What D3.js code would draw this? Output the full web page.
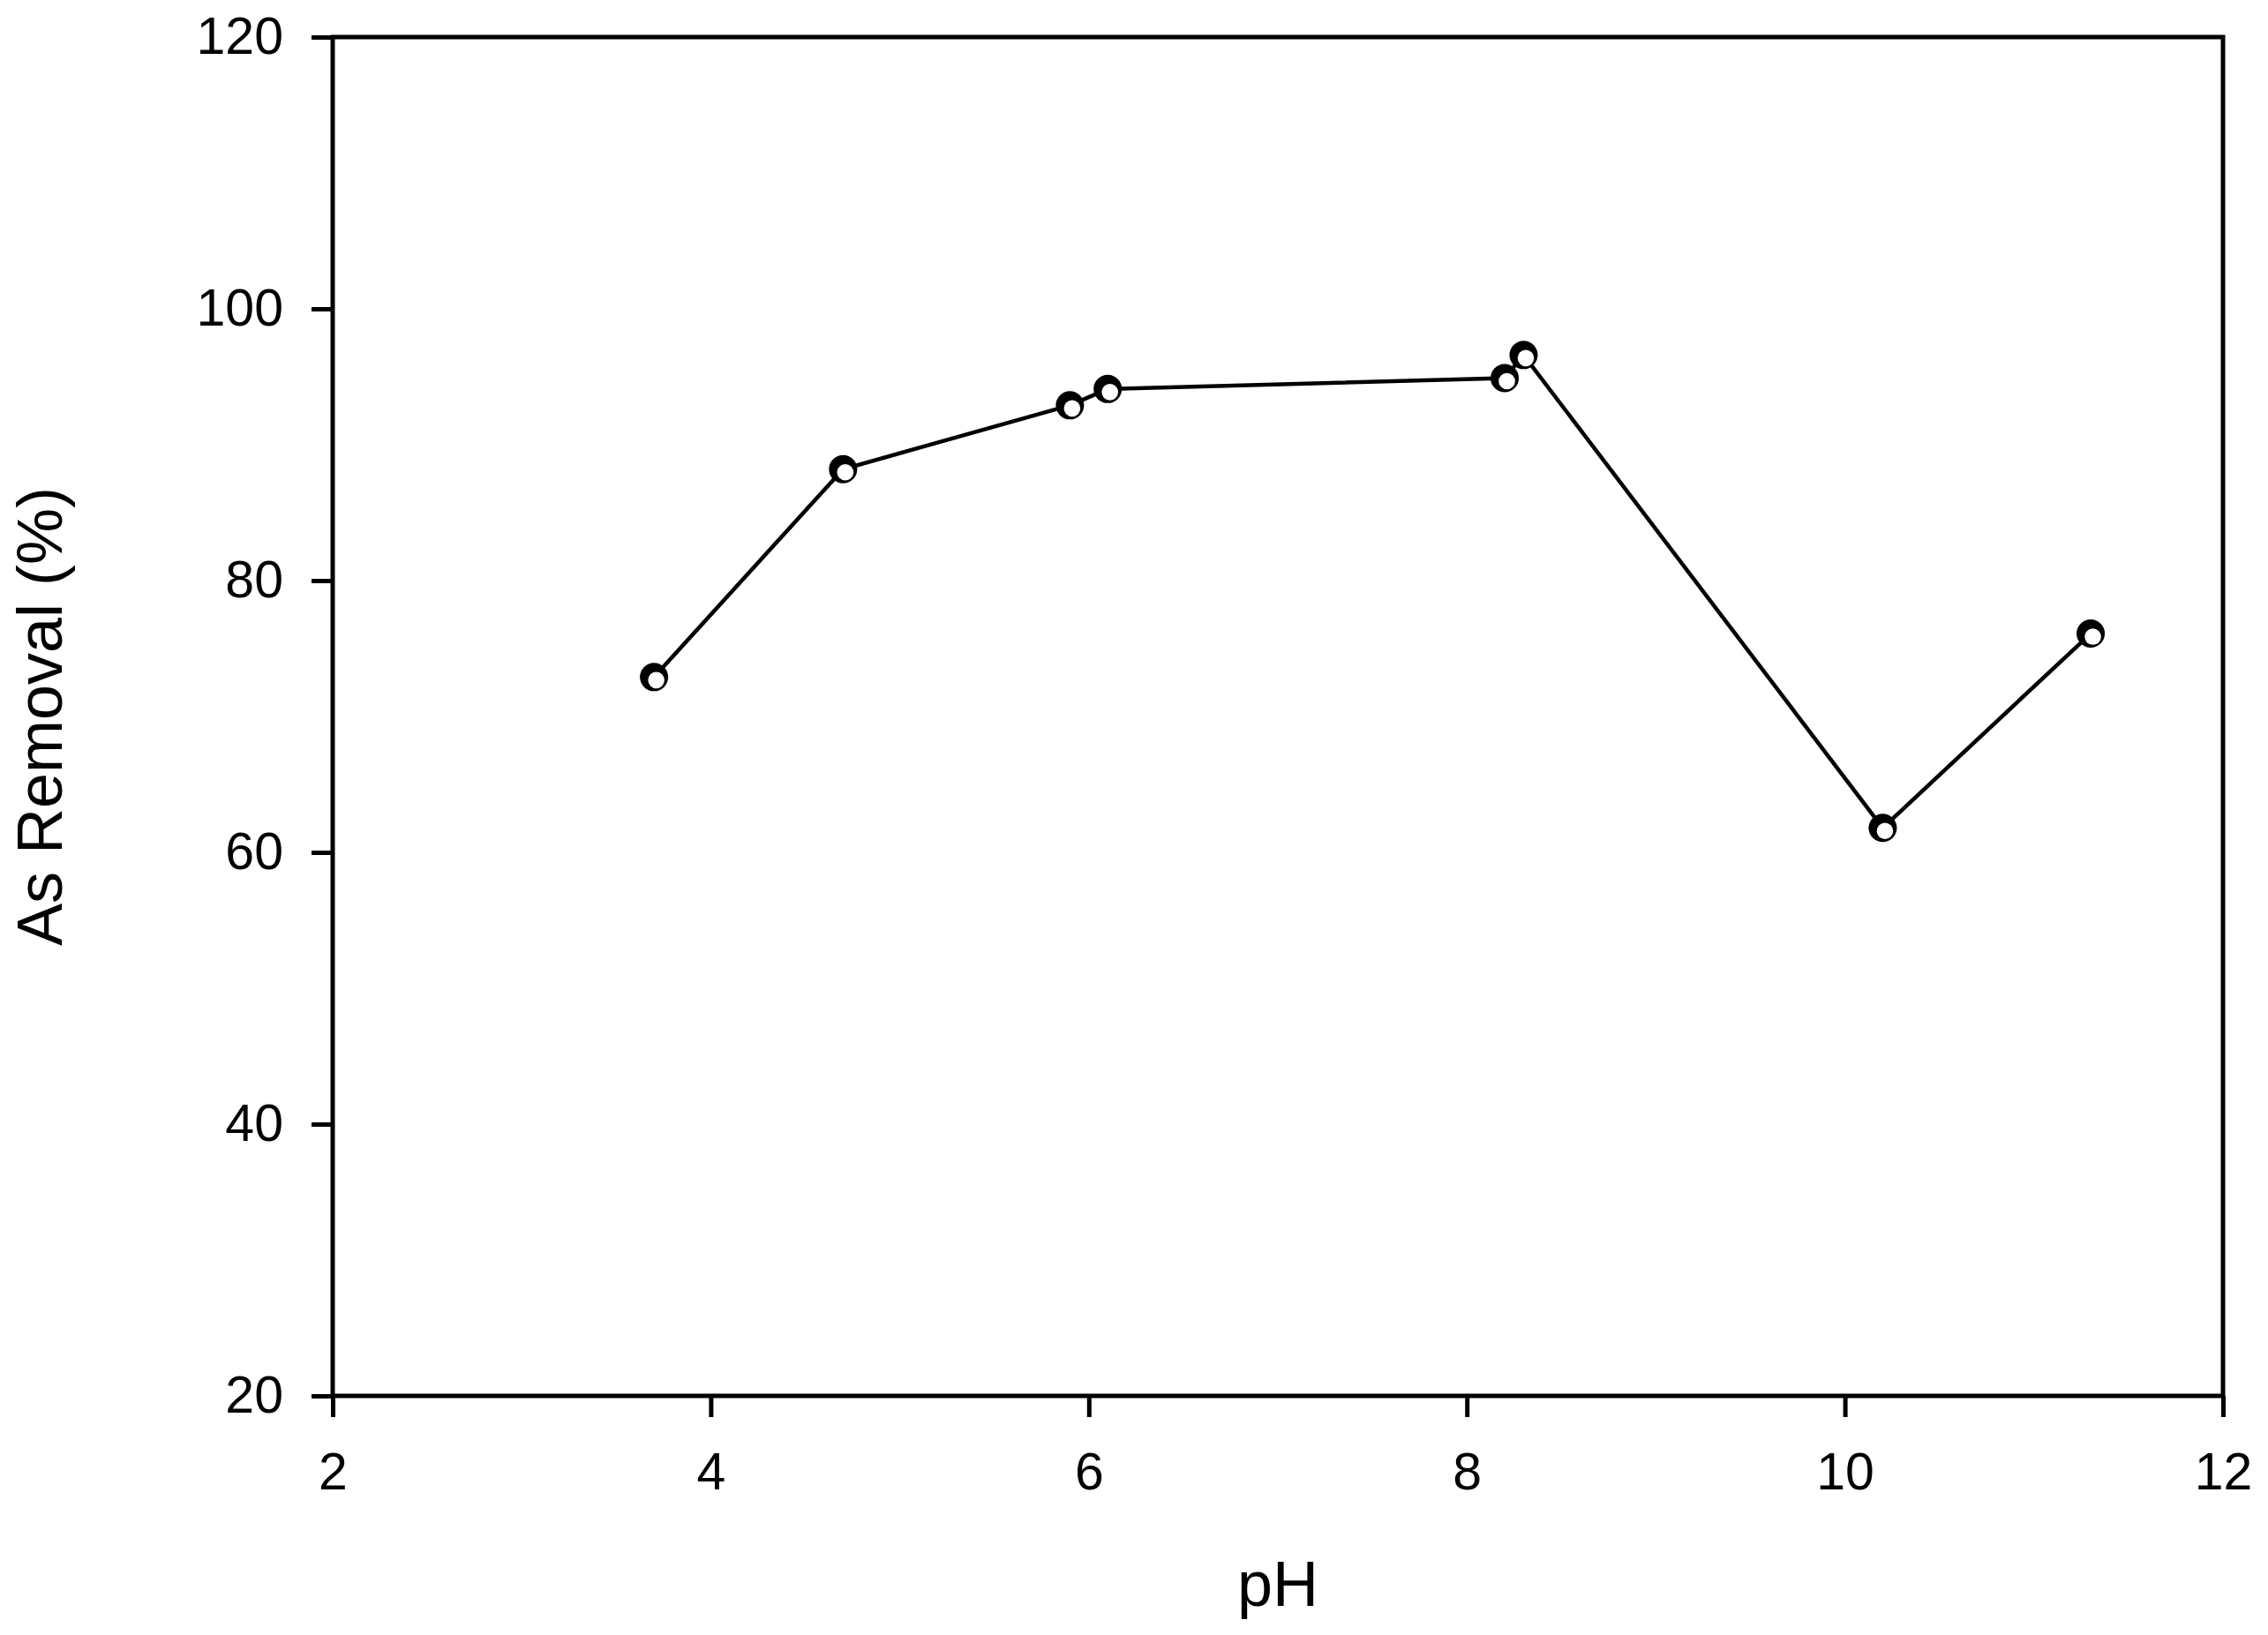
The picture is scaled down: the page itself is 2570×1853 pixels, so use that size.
<!DOCTYPE html>
<html>
  <head>
    <title>As Removal vs pH | D3</title>
    <style>
        body {
            margin: 0;
            background: #fff;
            font-family: "Liberation Sans", Arial, sans-serif;
        }
    </style>
    <script src="https://d3js.org/d3.v7.min.js" charset="utf-8"></script>
  </head>
  <body>
    <script>
    // data
    var pH = [3.7, 4.7, 5.9, 6.1, 8.2, 8.3, 10.2, 11.3];
    var removal = [72.9, 88.2, 92.9, 94.1, 94.9, 96.6, 61.8, 76.1];
    var xTicks = [2, 4, 6, 8, 10, 12];
    var yTicks = [20, 40, 60, 80, 100, 120];

    var width = 2570;
    var height = 1853;
    var margin = { left: 377, right: 2519, top: 42, bottom: 1582 };

    var svg = d3.select("body")
        .append("svg")
        .attr("width", width)
        .attr("height", height);

    var x = d3.scaleLinear().domain([2, 12]).range([margin.left, margin.right]);
    var y = d3.scaleLinear().domain([20, 120]).range([margin.bottom, margin.top]);

    // frame
    svg.append("rect")
        .attr("x", margin.left)
        .attr("y", margin.top)
        .attr("width", margin.right - margin.left)
        .attr("height", margin.bottom - margin.top)
        .attr("fill", "none")
        .attr("stroke", "#000")
        .attr("stroke-width", 5);

    // axes
    var xAxis = svg.append("g")
        .attr("transform", "translate(0," + margin.bottom + ")")
        .call(d3.axisBottom(x).tickValues(xTicks).tickSize(24).tickPadding(40).tickFormat(d3.format("d")));
    var yAxis = svg.append("g")
        .attr("transform", "translate(" + margin.left + ",0)")
        .call(d3.axisLeft(y).tickValues(yTicks).tickSize(24).tickPadding(32).tickFormat(d3.format("d")));

    [xAxis, yAxis].forEach(function(a) {
        a.select(".domain").remove();
        a.selectAll(".tick line").attr("stroke", "#000").attr("stroke-width", 5);
        a.selectAll(".tick text")
            .attr("fill", "#000")
            .style("font-family", "'Liberation Sans', Arial, sans-serif")
            .style("font-size", "59px");
    });

    // line
    var line = d3.line()
        .x(function(d, i) { return x(pH[i]); })
        .y(function(d) { return y(d); });

    svg.append("path")
        .datum(removal)
        .attr("d", line)
        .attr("fill", "none")
        .attr("stroke", "#000")
        .attr("stroke-width", 4.5);

    // markers: black disc with an off-centre white hole
    var pts = svg.append("g").selectAll("g")
        .data(removal)
        .enter()
        .append("g")
        .attr("transform", function(d, i) { return "translate(" + x(pH[i]) + "," + y(d) + ")"; });
    pts.append("circle").attr("r", 16).attr("fill", "#000");
    pts.append("circle").attr("cx", 2.5).attr("cy", 3.5).attr("r", 9.3).attr("fill", "#fff");

    // axis titles
    svg.append("text")
        .attr("x", (margin.left + margin.right) / 2)
        .attr("y", 1820)
        .attr("text-anchor", "middle")
        .style("font-size", "72px")
        .text("pH");

    svg.append("text")
        .attr("transform", "translate(70," + (margin.top + margin.bottom) / 2 + ") rotate(-90)")
        .attr("text-anchor", "middle")
        .style("font-size", "72px")
        .text("As Removal (%)");
    </script>
  </body>
</html>
